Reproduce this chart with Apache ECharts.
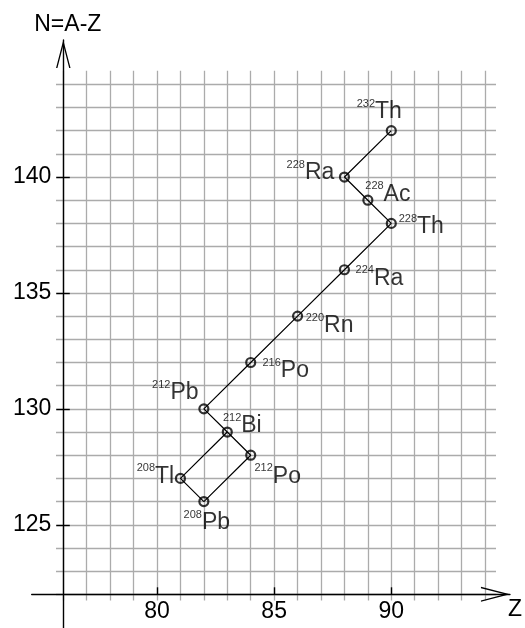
<!DOCTYPE html>
<html>
<head>
<meta charset="utf-8">
<script src="https://cdn.jsdelivr.net/npm/echarts@6/dist/echarts.min.js"></script>
<style>
  html, body { margin: 0; padding: 0; background: #fff; }
  #chart { width: 525px; height: 628px; }
</style>
</head>
<body>
<div id="chart"></div>
<script>
// Thorium-232 decay series on the N–Z plane
const symbols        = ['Th', 'Ra', 'Ac', 'Th', 'Ra', 'Rn', 'Po', 'Pb', 'Bi', 'Po', 'Tl', 'Pb'];
const massNumbers    = [232, 228, 228, 228, 224, 220, 216, 212, 212, 212, 208, 208];
const protonNumbers  = [90, 88, 89, 90, 88, 86, 84, 82, 83, 84, 81, 82];
const neutronNumbers = [142, 140, 139, 138, 136, 134, 132, 130, 129, 128, 127, 126];

// decay paths, as indices into the nuclide lists above
const mainChain   = [0, 1, 2, 3, 4, 5, 6, 7, 8, 9, 11];
const branchChain = [8, 10, 11];

const zTicks = [80, 85, 90];
const nTicks = [125, 130, 135, 140];

// where each nuclide label sits relative to its marker, in px
const labelOffsets = [
  [-12, -19], [-34, -4.5], [20, -6], [30, 3.5], [35, 8.5], [32, 10],
  [35, 8.5], [-28.5, -16], [15, -6.5], [27, 21], [-25, -2], [3, 21]
];

const FONT = '"Liberation Sans", Arial, Helvetica, sans-serif';
const GRID_COLOR = '#ababab';
const GRID_W = 1.3;
const AXIS_W = 1.4;
const TICK_COLOR = '#000';
// open "V" arrow head, pointing up before the axis rotates it
const ARROW = 'path://M7.5,0 L15,29 L13.6,29 L7.5,5.4 L1.4,29 L0,29 Z';

const point = i => [protonNumbers[i], neutronNumbers[i]];
const hidden = { show: false };

const chart = echarts.init(document.getElementById('chart'), null, { renderer: 'canvas' });

chart.setOption({
  animation: false,
  backgroundColor: '#fff',
  textStyle: { fontFamily: FONT },
  grid: [
    // 0: horizontal grid lines (run a little past both ends)
    { left: 56, right: 29, top: 84.3, bottom: 33.7 },
    // 1: vertical grid lines (run a little past top and bottom)
    { left: 63.3, right: 40, top: 70.7, bottom: 27.5 },
    // 2: plot area
    { left: 63.3, right: 40, top: 84.3, bottom: 33.7 },
    // 3: Z axis line with arrow
    { left: 31.7, right: 8.3, top: 84.3, bottom: 33.7 },
    // 4: N axis line with arrow
    { left: 63.3, right: 40, top: 40, bottom: 0 }
  ],
  xAxis: [
    { gridIndex: 0, type: 'value', min: 0, max: 1, show: false },
    {
      gridIndex: 1, type: 'value', min: 76, max: 94, interval: 1,
      axisLine: hidden, axisTick: hidden, axisLabel: hidden,
      splitLine: { show: true, lineStyle: { color: GRID_COLOR, width: GRID_W } }
    },
    {
      gridIndex: 2, type: 'value', position: 'bottom', min: 76, max: 94, z: 6,
      axisLine: hidden,
      axisTick: { show: true, inside: true, length: 7, customValues: zTicks,
                  lineStyle: { color: TICK_COLOR, width: AXIS_W } },
      axisLabel: { show: true, customValues: zTicks, margin: 6,
                   fontSize: 23, color: '#000', fontFamily: FONT },
      splitLine: hidden
    },
    {
      gridIndex: 3, type: 'value', position: 'bottom', min: 0, max: 1, z: 5,
      axisLine: { show: true, symbol: ['none', ARROW], symbolSize: [15, 29],
                  symbolOffset: [0, -14.5], lineStyle: { color: '#000', width: AXIS_W } },
      axisTick: hidden, axisLabel: hidden, splitLine: hidden,
      name: 'Z', nameLocation: 'end', nameGap: -2,
      nameTextStyle: { fontSize: 23, color: '#000', fontFamily: FONT,
                       verticalAlign: 'top', lineHeight: 31 }
    },
    { gridIndex: 4, type: 'value', min: 0, max: 1, show: false }
  ],
  yAxis: [
    {
      gridIndex: 0, type: 'value', min: 122, max: 144, interval: 1,
      axisLine: hidden, axisTick: hidden, axisLabel: hidden,
      splitLine: { show: true, lineStyle: { color: GRID_COLOR, width: GRID_W } }
    },
    { gridIndex: 1, type: 'value', min: 0, max: 1, show: false },
    {
      gridIndex: 2, type: 'value', position: 'left', offset: 0, min: 122, max: 144, z: 6,
      axisLine: hidden,
      axisTick: { show: true, inside: false, length: 7, customValues: nTicks,
                  lineStyle: { color: TICK_COLOR, width: AXIS_W } },
      axisLabel: { show: true, customValues: nTicks, margin: 12,
                   fontSize: 23, color: '#000', fontFamily: FONT },
      splitLine: hidden
    },
    {
      gridIndex: 2, type: 'value', position: 'left', offset: 0, min: 122, max: 144, z: 6,
      axisLine: hidden,
      axisTick: { show: true, inside: true, length: 6.5, customValues: nTicks,
                  lineStyle: { color: TICK_COLOR, width: AXIS_W } },
      axisLabel: hidden, splitLine: hidden
    },
    { gridIndex: 3, type: 'value', min: 0, max: 1, show: false },
    {
      gridIndex: 4, type: 'value', position: 'left', min: 0, max: 1, z: 5,
      axisLine: { show: true, symbol: ['none', ARROW], symbolSize: [15, 28],
                  symbolOffset: [0, -14], lineStyle: { color: '#000', width: AXIS_W } },
      axisTick: hidden, axisLabel: hidden, splitLine: hidden,
      name: 'N=A-Z', nameLocation: 'end', nameGap: 4,
      nameTextStyle: { fontSize: 23, color: '#000', fontFamily: FONT,
                       align: 'center', padding: [0, 0, 0, 9] }
    }
  ],
  series: [
    {
      type: 'line', xAxisIndex: 2, yAxisIndex: 2, silent: true,
      showSymbol: false, z: 3,
      lineStyle: { color: '#000', width: 1.2 },
      data: mainChain.map(point)
    },
    {
      type: 'line', xAxisIndex: 2, yAxisIndex: 2, silent: true,
      showSymbol: false, z: 3,
      lineStyle: { color: '#000', width: 1.2 },
      data: branchChain.map(point)
    },
    {
      type: 'scatter', xAxisIndex: 2, yAxisIndex: 2, silent: true, z: 4,
      symbol: 'circle', symbolSize: 9,
      itemStyle: { color: 'rgba(0,0,0,0)', borderColor: '#000', borderWidth: 2.2 },
      label: {
        show: true, position: 'inside', align: 'center', verticalAlign: 'middle',
        color: '#000', fontFamily: FONT,
        formatter: p => '{m|' + massNumbers[p.dataIndex] + '}{e|' + symbols[p.dataIndex] + '}',
        rich: {
          m: { fontSize: 11, lineHeight: 7, verticalAlign: 'top', color: '#000', fontFamily: FONT },
          e: { fontSize: 23, lineHeight: 27, color: '#000', fontFamily: FONT }
        }
      },
      data: protonNumbers.map((z, i) => ({
        value: point(i),
        label: { offset: labelOffsets[i] }
      }))
    }
  ]
});
</script>
</body>
</html>
